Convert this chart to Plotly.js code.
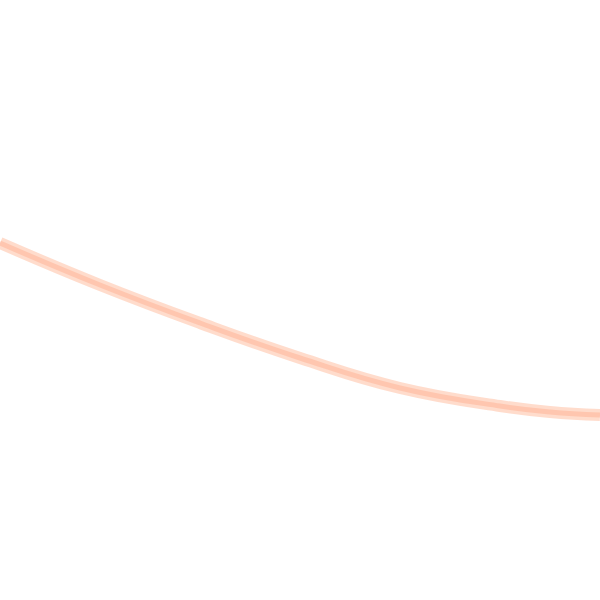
<!DOCTYPE html>
<html>
<head>
<meta charset="utf-8">
<script src="https://cdn.plot.ly/plotly-3.0.1.min.js"></script>
<style>
  html, body { margin: 0; padding: 0; background: #fff; }
  #chart { width: 600px; height: 600px; }
</style>
</head>
<body>
<div id="chart"></div>
<script>
// curve (x across, y down)
var xs = [0, 100, 200, 300, 400, 500, 550, 600];
var ys = [243, 285, 323, 358, 388, 406, 412, 415];

var halo = {
    x: xs,
    y: ys,
    type: "scatter",
    mode: "lines",
    line: { color: "rgba(255,205,182,0.7)", width: 12, shape: "spline", smoothing: 1.3 },
    hoverinfo: "skip"
};

var core = {
    x: xs,
    y: ys,
    type: "scatter",
    mode: "lines",
    line: { color: "rgba(255,180,152,0.55)", width: 5, shape: "spline", smoothing: 1.3 },
    hoverinfo: "skip"
};

var layout = {
    width: 600,
    height: 600,
    margin: { l: 0, r: 0, t: 0, b: 0 },
    paper_bgcolor: "#ffffff",
    plot_bgcolor: "#ffffff",
    showlegend: false,
    xaxis: { range: [0, 600], visible: false, fixedrange: true },
    yaxis: { range: [600, 0], visible: false, fixedrange: true }
};

Plotly.newPlot("chart", [halo, core], layout, { displayModeBar: false, staticPlot: true });
</script>
</body>
</html>
